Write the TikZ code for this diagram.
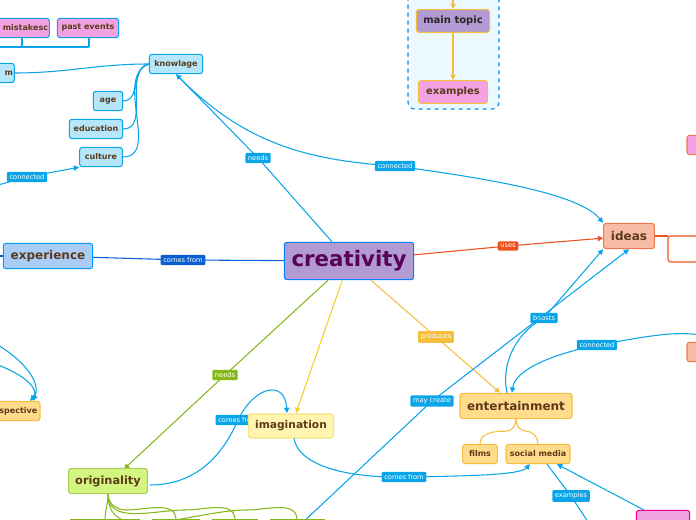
\documentclass[tikz,border=0pt]{standalone}
\usepackage{fontspec}
\setmainfont{DejaVu Sans}
\usetikzlibrary{arrows.meta}
\definecolor{cb}{HTML}{0AA5E8}
\definecolor{tx}{HTML}{5B3A1A}
\definecolor{pk}{HTML}{F2A2E2}
\definecolor{lb}{HTML}{B5E6FA}
\definecolor{og}{HTML}{FFDC8C}
\definecolor{ogd}{HTML}{F6BE3C}
\definecolor{sal}{HTML}{F8BBA6}
\definecolor{sald}{HTML}{F07850}
\definecolor{rd}{HTML}{EC5220}
\definecolor{pu}{HTML}{B29AD2}
\definecolor{gr}{HTML}{D4F681}
\definecolor{grd}{HTML}{86B81A}
\definecolor{ye}{HTML}{FFF5B0}
\definecolor{yed}{HTML}{EED22A}
\definecolor{ex}{HTML}{A9CDF7}
\definecolor{exd}{HTML}{0A5FD1}
\tikzset{
 box/.style={draw, rounded corners=2pt, line width=0.8pt, font=\bfseries\fontsize{6}{7}\selectfont, text=tx, inner sep=0pt, minimum height=14.5pt},
 bluebox/.style={box, fill=lb, draw=cb},
 pinkbox/.style={box, fill=pk, draw=cb},
 lab/.style={fill=#1, text=white, rounded corners=1pt, font=\fontsize{5}{6}\selectfont, inner sep=2pt},
 cl/.style={draw=cb, line width=0.8pt},
 ar/.style={-{Triangle[length=4pt,width=4pt]}},
}
\begin{document}
\begin{tikzpicture}[x=0.75pt,y=-0.75pt]
\useasboundingbox (0,0) rectangle (696,520);
\clip (0,0) rectangle (696,520);
% legend
\draw[cb!80!blue, dashed, line width=0.8pt, fill=cyan!8, rounded corners=5pt] (408,-10) rectangle (499,109);
\node[box, fill=pu, draw=ogd, text=black!85, minimum width=55pt, minimum height=17pt, font=\bfseries\fontsize{7.5}{8}\selectfont] (mt) at (453,21) {main topic};
\node[box, fill=pk, draw=ogd, minimum width=52pt, minimum height=17pt, font=\bfseries\fontsize{7.5}{8}\selectfont] (ex) at (453,92) {examples};
\coordinate (lt) at (453,-5);
\draw[ogd, line width=0.8pt, ar] (lt) -- (mt);
\draw[ogd, line width=0.8pt, ar] (mt) -- (ex);
% top-left
\node[pinkbox, minimum width=41pt, text width=39pt, align=right] (mis) at (22,28) {mistakesc};
\node[pinkbox, minimum width=46pt] (pe) at (88,28) {past events};
\draw[cl, rounded corners=2pt] (0,47) -- (89,47) (22,47) -- (22,38) (89,47) -- (89,38);
\node[bluebox, minimum width=26pt, text width=24pt, align=right] (m) at (-3,73) {m};
\node[bluebox, minimum width=40pt] (kn) at (176,64) {knowlage};
\node[bluebox, minimum width=22pt] (age) at (108,101) {age};
\node[bluebox, minimum width=40pt] (edu) at (96,129) {education};
\node[bluebox, minimum width=32pt] (cul) at (101,157) {culture};
\draw[cl] (kn.west) to[out=180,in=0] (m.east);
\draw[cl] (kn.west) to[out=190,in=0] (age.east);
\draw[cl] (kn.west) to[out=195,in=0] (edu.east);
\draw[cl] (kn.west) to[out=200,in=0] (cul.east);
\coordinate (cfree) at (-2,185);
\draw[cl, ar] (cfree) -- (27,177) node[lab=cb]{connected} -- (cul.south west);
% experience
\node[box, fill=ex, draw=blue!40!cyan, minimum width=67pt, minimum height=19pt, font=\bfseries\fontsize{9}{10}\selectfont] (exp) at (48,256) {experience};
\coordinate (el) at (-2,256);
\draw[exd, line width=0.8pt] (el) -- (exp);
% creativity
\node[box, fill=pu, draw=blue!50!cyan, minimum width=97pt, minimum height=28pt, text=violet!70!black, font=\bfseries\fontsize{16}{18}\selectfont] (cr) at (349,261) {creativity};
\draw[exd, line width=0.8pt] (cr) -- (183,260) node[lab=exd]{comes from} -- (exp);
% ideas
\node[box, fill=sal, draw=sald, minimum width=38pt, minimum height=19pt, font=\bfseries\fontsize{9}{10}\selectfont] (id) at (629,236) {ideas};
\draw[rd, line width=0.8pt] (id.east) -- (668,236);
\draw[rd, line width=0.8pt, rounded corners=2pt] (700,236) -- (668,236) -- (668,262) -- (700,262);
\node[box, fill=pk, draw=sald, minimum width=15pt] (pr) at (697,145) {};
\node[box, fill=sal, draw=sald, minimum width=15pt] (sr) at (697,352) {};
\draw[rd, line width=0.8pt, ar] (cr) -- (508,246) node[lab=rd]{uses} -- (id);
% knowlage links
\draw[cl, ar] (cr) -- (258,158) node[lab=cb]{needs} -- (kn.south);
\draw[cl, ar] (kn.south) .. controls (240,140) and (300,160) .. (395,166) node[lab=cb]{connected} .. controls (500,180) and (580,195) .. (id.north west);
% entertainment
\node[box, fill=og, draw=ogd, minimum width=84pt, minimum height=19pt, font=\bfseries\fontsize{9}{10}\selectfont] (en) at (516,406) {entertainment};
\node[box, fill=og, draw=ogd, minimum width=26pt] (fi) at (480,454) {films};
\node[box, fill=og, draw=ogd, minimum width=48pt] (sm) at (538,454) {social media};
\draw[ogd, line width=0.8pt] (en.south) to[out=-90,in=0] +(-10,12) to[out=180,in=90] (fi.north);
\draw[ogd, line width=0.8pt] (en.south) to[out=-90,in=180] +(10,12) to[out=0,in=90] (sm.north);
\draw[ogd, line width=0.8pt, ar] (cr) -- (436,337) node[lab=ogd]{produces} -- (en.north -| 500,0);
\draw[cl, ar] (en.north -| 507,0) .. controls (500,360) and (520,330) .. (544,318) node[lab=cb]{boosts} -- (id.south west);
\coordinate (rc) at (700,335);
\draw[cl, ar] (rc) .. controls (670,330) and (630,340) .. (597,345) node[lab=cb]{connected} .. controls (550,355) and (515,370) .. (en.north -| 512,0);
\coordinate (mcf) at (300,525);
\draw[cl, ar] (mcf) -- (432,401) node[lab=cb]{may create} -- (id.south);
% imagination & originality
\draw[yed, line width=0.8pt, ar] (cr) -- (296,413);
\draw[grd, line width=0.8pt, ar] (cr) -- (225,375) node[lab=grd]{needs} -- (124,469);
\draw[cl, ar] (150,485) .. controls (200,485) and (225,450) .. (238,420) node[lab=cb]{comes from} .. controls (255,385) and (285,380) .. (287,413);
\node[box, fill=ye, draw=yed!60, minimum width=64pt, minimum height=18pt, font=\bfseries\fontsize{8}{9}\selectfont] (im) at (291,426) {imagination};
\node[box, fill=gr, draw=grd!70, minimum width=59pt, minimum height=19pt, font=\bfseries\fontsize{8.5}{9}\selectfont] (or) at (108,481) {originality};
\draw[cl, ar] (im.south -| 294,0) .. controls (300,470) and (360,478) .. (404,477) node[lab=cb]{comes from} .. controls (470,476) and (520,475) .. (sm.south -| 530,0);
\coordinate (exf) at (590,525);
\draw[cl] (sm.south -| 547,0) -- (571,496) node[lab=cb]{examples} -- (exf);
\node[box, fill=pk, draw=magenta, minimum width=40pt] (pb) at (663,520) {};
\draw[cl, ar] (pb) -- (sm.south -| 557,0);
% originality children
\draw[grd, line width=0.8pt] (or.south) to[out=-90,in=90] (105,520);
\foreach \b in {176,235,297}{
  \draw[grd, line width=0.8pt] (or.south) to[out=-90,in=180] (\b-50,510) to[out=0,in=90] (\b,520);
}
\draw[grd, line width=0.8pt] (70,520) -- (140,520) (152,520) -- (200,520) (212,520) -- (258,520) (270,520) -- (325,520);
% perspective
\node[box, fill=og, draw=ogd, minimum width=60pt, text width=56pt, align=right] (ps) at (0,411) {spective};
\coordinate (p1) at (-2,345);
\coordinate (p2) at (-2,365);
\draw[cl, ar] (p1) .. controls (30,365) and (40,385) .. (ps.north -| 33,0);
\draw[cl, ar] (p2) .. controls (25,375) and (40,390) .. (ps.north -| 30,0);
\end{tikzpicture}
\end{document}
